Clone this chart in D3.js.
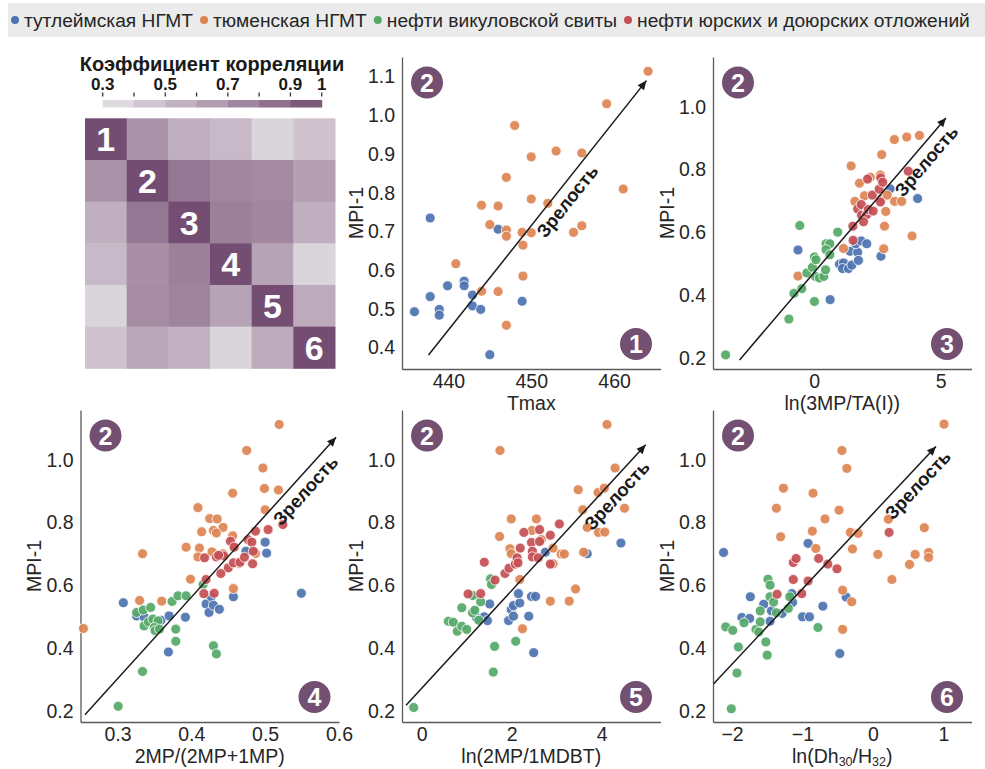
<!DOCTYPE html>
<html>
<head>
<meta charset="utf-8">
<script src="https://cdnjs.cloudflare.com/ajax/libs/d3/7.8.5/d3.min.js"></script>
<style>
body{margin:0;background:#fff;}
svg text{font-family:"Liberation Sans",Arial,sans-serif;}
</style>
</head>
<body>
<script>
var seriesNames = ["тутлеймская НГМТ","тюменская НГМТ","нефти викуловской свиты","нефти юрских и доюрских отложений"];
var seriesColors = ["#4c72b0","#dd8452","#55a868","#c44e52"];

// correlation matrix
var corrLabels = ["1","2","3","4","5","6"];
var corr = [
  [1.00,0.70,0.56,0.51,0.38,0.46],
  [0.70,1.00,0.82,0.75,0.74,0.64],
  [0.56,0.82,1.00,0.78,0.75,0.56],
  [0.51,0.71,0.78,1.00,0.62,0.38],
  [0.38,0.72,0.76,0.62,1.00,0.58],
  [0.46,0.60,0.55,0.38,0.58,1.00]
];
var cbarEdges = [0.3,0.4,0.5,0.6,0.7,0.8,0.9,1.0];
var cbarTicks = [0.3,0.5,0.7,0.9,1];

// Tmax
var tmaxTutl = [[435.9,0.493],[437.8,0.735],[437.8,0.532],[438.9,0.499],[438.9,0.484],[439.9,0.560],[441.9,0.572],[441.9,0.560],[442.9,0.536],[442.9,0.508],[443.9,0.499],[446.0,0.706],[448.9,0.520],[445.0,0.382]];
var tmaxTyum = [[464.1,1.114],[459.1,1.030],[448.0,0.974],[450.0,0.893],[453.0,0.908],[456.1,0.903],[447.0,0.840],[450.0,0.784],[461.1,0.810],[444.0,0.768],[446.0,0.766],[452.0,0.773],[445.0,0.718],[447.0,0.704],[447.0,0.688],[448.9,0.698],[450.0,0.697],[455.1,0.698],[456.1,0.715],[449.0,0.665],[440.9,0.617],[449.0,0.585],[444.0,0.546],[446.0,0.545],[447.0,0.458]];

// ln(3MP/TA(I))
var taTutl = [[-0.64,0.544],[0.63,0.386],[1.00,0.499],[1.16,0.503],[1.12,0.485],[1.36,0.485],[1.49,0.496],[1.42,0.540],[1.72,0.537],[1.75,0.511],[1.64,0.564],[1.86,0.573],[2.08,0.564],[2.64,0.524],[3.00,0.739],[4.09,0.708]];
var taTyum = [[-0.64,0.461],[1.16,0.549],[1.46,0.812],[1.79,0.757],[2.22,0.776],[1.99,0.717],[1.61,0.699],[2.62,0.783],[2.67,0.848],[2.64,0.706],[2.83,0.667],[2.89,0.719],[2.78,0.620],[2.75,0.548],[3.18,0.699],[3.46,0.699],[3.87,0.589],[3.17,0.896],[3.66,0.904],[4.16,0.909]];
var taVik = [[-3.50,0.210],[-1.00,0.324],[-0.80,0.406],[-0.49,0.421],[-0.57,0.622],[-0.29,0.471],[-0.07,0.489],[0.01,0.522],[0.07,0.513],[0.01,0.380],[0.05,0.460],[0.21,0.455],[0.38,0.460],[0.45,0.481],[0.47,0.564],[0.62,0.564],[0.47,0.545],[0.62,0.529],[0.93,0.601]];
var taJur = [[1.54,0.575],[1.53,0.620],[1.72,0.675],[1.86,0.689],[1.87,0.655],[2.08,0.657],[1.95,0.634],[2.14,0.673],[2.30,0.719],[2.33,0.668],[2.11,0.770],[2.57,0.738],[2.63,0.774],[2.71,0.760],[3.72,0.795],[2.62,0.697]];

// 2MP/(2MP+1MP)
var mpTutl = [[0.308,0.545],[0.326,0.503],[0.336,0.500],[0.359,0.489],[0.370,0.503],[0.392,0.499],[0.369,0.388],[0.420,0.541],[0.424,0.514],[0.427,0.564],[0.430,0.537],[0.438,0.524],[0.457,0.564],[0.474,0.709],[0.500,0.738],[0.502,0.703],[0.549,0.575]];
var mpTyum = [[0.254,0.463],[0.519,1.113],[0.475,1.030],[0.497,0.974],[0.499,0.909],[0.518,0.904],[0.500,0.841],[0.456,0.894],[0.409,0.848],[0.425,0.813],[0.435,0.812],[0.443,0.785],[0.414,0.771],[0.430,0.775],[0.434,0.767],[0.456,0.758],[0.393,0.722],[0.411,0.719],[0.428,0.707],[0.443,0.701],[0.409,0.691],[0.334,0.701],[0.399,0.620],[0.330,0.552],[0.360,0.550],[0.457,0.590],[0.457,0.725],[0.465,0.670],[0.487,0.702]];
var mpVik = [[0.326,0.514],[0.335,0.522],[0.345,0.530],[0.336,0.471],[0.342,0.484],[0.348,0.493],[0.355,0.487],[0.350,0.466],[0.351,0.456],[0.357,0.461],[0.374,0.549],[0.382,0.567],[0.393,0.567],[0.379,0.461],[0.379,0.422],[0.334,0.326],[0.301,0.215],[0.416,0.603],[0.430,0.408],[0.434,0.382]];
var mpJur = [[0.418,0.688],[0.434,0.691],[0.444,0.694],[0.453,0.741],[0.458,0.722],[0.450,0.656],[0.457,0.672],[0.466,0.674],[0.472,0.690],[0.477,0.746],[0.482,0.738],[0.484,0.709],[0.483,0.669],[0.487,0.773],[0.504,0.778],[0.524,0.794],[0.440,0.638],[0.420,0.619],[0.417,0.574],[0.431,0.575],[0.437,0.696]];

// ln(2MP/1MDBT)
var dbtTutl = [[1.14,0.513],[1.22,0.497],[1.39,0.500],[1.46,0.488],[1.51,0.541],[1.93,0.488],[1.99,0.523],[2.04,0.502],[2.04,0.536],[2.18,0.544],[2.15,0.574],[2.38,0.502],[2.44,0.565],[2.53,0.565],[2.49,0.386],[2.75,0.706],[3.68,0.701],[4.43,0.735]];
var dbtTyum = [[1.74,1.030],[4.12,1.113],[4.30,0.974],[3.48,0.905],[3.92,0.896],[4.06,0.910],[4.51,0.846],[3.58,0.841],[1.99,0.812],[2.55,0.812],[1.73,0.756],[2.45,0.775],[2.66,0.746],[1.96,0.717],[1.99,0.701],[2.18,0.619],[2.24,0.462],[2.92,0.719],[2.92,0.669],[3.10,0.700],[3.17,0.700],[3.60,0.706],[3.68,0.785],[3.93,0.769],[4.07,0.770],[3.42,0.589],[3.28,0.550],[2.86,0.550]];
var dbtVik = [[-0.18,0.211],[0.59,0.486],[0.70,0.483],[0.79,0.454],[0.89,0.470],[0.89,0.529],[1.00,0.460],[1.13,0.568],[1.13,0.513],[1.18,0.521],[1.27,0.489],[1.31,0.548],[1.53,0.621],[1.55,0.603],[1.62,0.406],[1.59,0.324],[2.09,0.422]];
var dbtJur = [[1.03,0.573],[1.31,0.574],[1.39,0.674],[1.63,0.617],[1.85,0.638],[1.94,0.655],[2.08,0.668],[2.12,0.688],[2.14,0.672],[2.19,0.719],[2.27,0.769],[2.44,0.737],[2.46,0.709],[2.46,0.691],[2.62,0.778],[2.62,0.740],[2.86,0.760],[2.86,0.668],[3.06,0.796],[2.59,0.688]];

// ln(Dh30/H32)
var dhTutl = [[-2.12,0.705],[-1.86,0.498],[-1.75,0.495],[-1.74,0.564],[-1.55,0.540],[-1.44,0.519],[-1.46,0.486],[-1.29,0.511],[-1.15,0.574],[-1.14,0.546],[-1.00,0.500],[-0.90,0.500],[-0.92,0.734],[-0.71,0.534],[-0.47,0.383],[-0.38,0.563]];
var dhTyum = [[-1.27,0.910],[-1.37,0.846],[-1.31,0.755],[-0.85,0.894],[-0.86,0.773],[-0.81,0.718],[-0.68,0.812],[-0.48,0.840],[-0.44,1.030],[-0.37,0.973],[-0.43,0.585],[-0.43,0.460],[-0.30,0.548],[-0.32,0.769],[-0.21,0.766],[-0.29,0.716],[0.07,0.699],[0.22,0.811],[0.27,0.619],[0.52,0.667],[0.60,0.699],[0.73,0.784],[0.79,0.705],[0.79,0.689],[1.01,1.114]];
var dhVik = [[-2.09,0.468],[-1.99,0.457],[-1.91,0.404],[-1.93,0.321],[-2.01,0.207],[-1.83,0.481],[-1.66,0.460],[-1.62,0.452],[-1.60,0.484],[-1.60,0.519],[-1.52,0.420],[-1.50,0.378],[-1.49,0.620],[-1.46,0.601],[-1.46,0.564],[-1.41,0.547],[-1.37,0.513],[-1.20,0.527],[-1.18,0.564],[-0.78,0.466]];
var dhJur = [[-1.36,0.572],[-1.13,0.673],[-1.09,0.686],[-1.13,0.619],[-1.01,0.574],[-0.92,0.614],[-0.77,0.686],[-0.64,0.668],[-0.51,0.653],[0.23,0.769]];

var yTicksTmax = [0.4,0.5,0.6,0.7,0.8,0.9,1.0,1.1];
var yTicksMpi = [0.2,0.4,0.6,0.8,1.0];

var W = 985, H = 769;
var svg = d3.select("body").append("svg").attr("width",W).attr("height",H);

// ---- legend ----
svg.append("rect").attr("x",8).attr("y",3).attr("width",977).attr("height",34).attr("fill","#ebebeb");
var lx = 11;
seriesNames.forEach(function(name,i){
  svg.append("circle").attr("cx",lx+4).attr("cy",20).attr("r",4).attr("fill",seriesColors[i]);
  var t = svg.append("text").attr("x",lx+13).attr("y",20).attr("dy","0.35em")
    .attr("font-size",19.2).attr("fill","#262626").text(name);
  lx += 13 + t.node().getComputedTextLength() + 7;
});

// ---- heatmap ----
var corrColor = d3.scaleLinear().domain([0.3,0.65,1.0]).range(["#e6e4e7","#b39db1","#744e72"]);
svg.append("text").attr("x",212).attr("y",71).attr("text-anchor","middle")
  .attr("font-size",20).attr("font-weight","bold").attr("fill","#1a1a1a").text("Коэффициент корреляции");

var cbX = d3.scaleLinear().domain([0.3,1]).range([102.7,321.7]);
svg.selectAll(".cbin").data(d3.pairs(cbarEdges)).enter().append("rect")
  .attr("x",function(d){return cbX(d[0]);})
  .attr("width",function(d){return cbX(d[1])-cbX(d[0])+0.5;})
  .attr("y",100).attr("height",7.5)
  .attr("fill",function(d){return corrColor((d[0]+d[1])/2);});
svg.selectAll(".ctick").data(cbarEdges).enter().append("line")
  .attr("x1",function(d){return cbX(d);}).attr("x2",function(d){return cbX(d);})
  .attr("y1",92.5).attr("y2",96.5).attr("stroke","#333").attr("stroke-width",1.3);
svg.selectAll(".clab").data(cbarTicks).enter().append("text")
  .attr("x",function(d){return cbX(d);}).attr("y",89.5).attr("text-anchor","middle")
  .attr("font-size",17).attr("font-weight","bold").attr("fill","#1a1a1a")
  .text(function(d){return d===1 ? "1" : d3.format(".1f")(d);});

var hmX = d3.scaleBand().domain(corrLabels).range([85,335]);
var hmY = d3.scaleBand().domain(corrLabels).range([118.3,368.3]);
var cells = [];
corr.forEach(function(row,i){ row.forEach(function(v,j){ cells.push({r:corrLabels[i],c:corrLabels[j],v:v}); }); });
svg.selectAll(".cell").data(cells).enter().append("rect")
  .attr("x",function(d){return hmX(d.c);}).attr("y",function(d){return hmY(d.r);})
  .attr("width",hmX.bandwidth()+0.5).attr("height",hmY.bandwidth()+0.5)
  .attr("fill",function(d){return corrColor(d.v);});
svg.selectAll(".dlab").data(corrLabels).enter().append("text")
  .attr("x",function(d){return hmX(d)+hmX.bandwidth()/2;})
  .attr("y",function(d){return hmY(d)+hmY.bandwidth()/2;})
  .attr("dy","0.36em").attr("text-anchor","middle")
  .attr("font-size",34).attr("font-weight","bold").attr("fill","#fff").text(function(d){return d;});

// ---- scatter panels ----
var defs = svg.append("defs");
defs.append("marker").attr("id","arrowhead").attr("viewBox","0 -5 10 10")
  .attr("refX",10).attr("refY",0).attr("markerWidth",11).attr("markerHeight",9)
  .attr("markerUnits","userSpaceOnUse").attr("orient","auto")
  .append("path").attr("d","M0,-4.5L10,0L0,4.5Z").attr("fill","#1a1a1a");

var panels = [
  {left:402, top:57, xDomain:[434.4,465.6], yDomain:[0.345,1.151], xTicks:[440,450,460], yTicks:yTicksTmax,
   xFmt:d3.format("d"), xLabel:[["Tmax"]], series:[tmaxTutl,tmaxTyum,null,null],
   arrow:[[437.6,0.381],[463.9,1.09]], textT:0.59, num:"1"},
  {left:713, top:57, xDomain:[-4,6.22], yDomain:[0.165,1.159], xTicks:[0,5], yTicks:yTicksMpi,
   xFmt:d3.format("d"), xLabel:[["ln(3MP/TA(I))"]], series:[taTutl,taTyum,taVik,taJur],
   arrow:[[-2.95,0.194],[5.21,0.965]], textT:0.857, num:"3"},
  {left:80.5, top:410, xDomain:[0.25,0.6], yDomain:[0.165,1.159], xTicks:[0.3,0.4,0.5,0.6], yTicks:yTicksMpi,
   xFmt:d3.format(".1f"), xLabel:[["2MP/(2MP+1MP)"]], series:[mpTutl,mpTyum,mpVik,mpJur],
   arrow:[[0.256,0.188],[0.596,1.072]], textT:0.84, num:"4"},
  {left:402, top:410, xDomain:[-0.44,5.31], yDomain:[0.165,1.159], xTicks:[0,2,4], yTicks:yTicksMpi,
   xFmt:d3.format("d"), xLabel:[["ln(2MP/1MDBT)"]], series:[dbtTutl,dbtTyum,dbtVik,dbtJur],
   arrow:[[-0.35,0.218],[4.98,1.048]], textT:0.84, num:"5"},
  {left:713, top:410, xDomain:[-2.27,1.4], yDomain:[0.165,1.159], xTicks:[-2,-1,0,1], yTicks:yTicksMpi,
   xFmt:d3.format("d"), xLabel:[["ln(Dh"],["30",1],["/H"],["32",1],[")"]], series:[dhTutl,dhTyum,dhVik,dhJur],
   arrow:[[-2.26,0.287],[0.895,1.043]], textT:0.876, num:"6"}
];
var pw = 258.5, ph = 312;

function badge(cx,cy,label){
  svg.append("circle").attr("cx",cx).attr("cy",cy).attr("r",16).attr("fill","#734f72");
  svg.append("text").attr("x",cx).attr("y",cy).attr("dy","0.36em").attr("text-anchor","middle")
    .attr("font-size",25).attr("font-weight","bold").attr("fill","#fff").text(label);
}

panels.forEach(function(p){
  var x = d3.scaleLinear().domain(p.xDomain).range([p.left,p.left+pw]);
  var y = d3.scaleLinear().domain(p.yDomain).range([p.top+ph,p.top]);
  var g = svg.append("g");

  var xg = g.append("g").attr("transform","translate(0,"+(p.top+ph)+")")
    .call(d3.axisBottom(x).tickValues(p.xTicks).tickSize(0).tickPadding(5).tickFormat(p.xFmt));
  var yg = g.append("g").attr("transform","translate("+p.left+",0)")
    .call(d3.axisLeft(y).tickValues(p.yTicks).tickSize(0).tickPadding(7).tickFormat(d3.format(".1f")));
  [xg,yg].forEach(function(a){
    a.select(".domain").attr("stroke","#5a5a5a").attr("stroke-width",1.3);
    a.selectAll("text").attr("font-size",19.5).attr("fill","#262626").attr("font-family","Liberation Sans, Arial, sans-serif");
  });

  var xl = g.append("text").attr("x",p.left+pw/2).attr("y",p.top+ph+34).attr("dy","0.35em")
    .attr("text-anchor","middle").attr("font-size",19.5).attr("fill","#262626");
  p.xLabel.forEach(function(s){
    var ts = xl.append("tspan").text(s[0]);
    if(s[1]) ts.attr("font-size",12.5).attr("baseline-shift","-20%");
  });
  g.append("text").attr("transform","translate("+(p.left-46)+","+(p.top+ph/2)+") rotate(-90)")
    .attr("dy","0.35em").attr("text-anchor","middle").attr("font-size",19.5).attr("fill","#262626").text("MPI-1");

  badge(p.left+25, p.top+25.5, "2");
  badge(p.left+pw-24.5, p.top+ph-25, p.num);

  p.series.forEach(function(data,i){
    if(!data) return;
    g.selectAll(null).data(data).enter().append("circle")
      .attr("cx",function(d){return x(d[0]);}).attr("cy",function(d){return y(d[1]);})
      .attr("r",5).attr("fill",seriesColors[i]).attr("fill-opacity",0.92)
      .attr("stroke","#fff").attr("stroke-width",0.8);
  });

  var x1 = x(p.arrow[0][0]), y1 = y(p.arrow[0][1]), x2 = x(p.arrow[1][0]), y2 = y(p.arrow[1][1]);
  g.append("line").attr("x1",x1).attr("y1",y1).attr("x2",x2).attr("y2",y2)
    .attr("stroke","#1a1a1a").attr("stroke-width",1.5).attr("marker-end","url(#arrowhead)");
  var ang = Math.atan2(y2-y1,x2-x1)*180/Math.PI;
  var tx = x1+(x2-x1)*p.textT, ty = y1+(y2-y1)*p.textT;
  g.append("text").attr("transform","translate("+tx+","+ty+") rotate("+ang+")")
    .attr("y",13).attr("dy","0.35em").attr("text-anchor","middle")
    .attr("font-family","DejaVu Sans, sans-serif").attr("font-weight","bold").attr("font-size",18.5)
    .attr("fill","#1a1a1a").text("Зрелость");
});
</script>
</body>
</html>
